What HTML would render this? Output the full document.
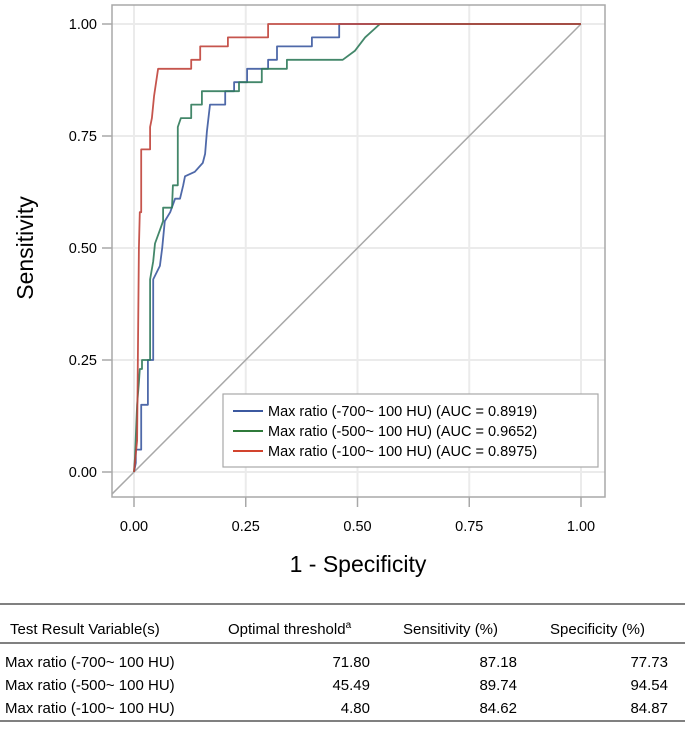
<!DOCTYPE html>
<html><head><meta charset="utf-8"><style>
body{margin:0;background:#fff;width:685px;height:733px;overflow:hidden;font-family:"Liberation Sans",sans-serif}
svg{position:absolute;left:0;top:0}
</style></head><body>
<svg width="685" height="733" font-family="Liberation Sans, sans-serif">
<g id="grid"></g>
<rect x="112" y="5" width="493" height="492" fill="none" stroke="#a8a8a8" stroke-width="1.5"/>
<g id="axes"></g>
<g id="series"></g>
<text x="33" y="248" font-size="23" text-anchor="middle" transform="rotate(-90 33 248)">Sensitivity</text>
<text x="358" y="572" font-size="23" text-anchor="middle">1 - Specificity</text>
<g>
<rect x="223" y="394" width="375" height="73" fill="#fff" stroke="#a8a8a8" stroke-width="1.2"/>
<line x1="233" y1="411" x2="263" y2="411" stroke="#3c59a0" stroke-width="2"/>
<text x="268" y="416" font-size="14.5">Max ratio (-700~ 100 HU) (AUC = 0.8919)</text>
<line x1="233" y1="431" x2="263" y2="431" stroke="#2f7a3a" stroke-width="2"/>
<text x="268" y="436" font-size="14.5">Max ratio (-500~ 100 HU) (AUC = 0.9652)</text>
<line x1="233" y1="451" x2="263" y2="451" stroke="#d2442e" stroke-width="2"/>
<text x="268" y="456" font-size="14.5">Max ratio (-100~ 100 HU) (AUC = 0.8975)</text>
</g>
<g font-size="15">
<line x1="0" y1="604" x2="685" y2="604" stroke="#000" stroke-width="1"/>
<line x1="0" y1="643" x2="685" y2="643" stroke="#000" stroke-width="1"/>
<line x1="0" y1="721" x2="685" y2="721" stroke="#000" stroke-width="1"/>
<text x="10" y="634">Test Result Variable(s)</text>
<text x="228" y="634">Optimal threshold<tspan font-size="10" dy="-6">a</tspan></text>
<text x="403" y="634">Sensitivity (%)</text>
<text x="550" y="634">Specificity (%)</text>
<g>
<text x="5" y="667">Max ratio (-700~ 100 HU)</text><text x="370" y="667" text-anchor="end">71.80</text><text x="517" y="667" text-anchor="end">87.18</text><text x="668" y="667" text-anchor="end">77.73</text></g>
<g>
<text x="5" y="690">Max ratio (-500~ 100 HU)</text><text x="370" y="690" text-anchor="end">45.49</text><text x="517" y="690" text-anchor="end">89.74</text><text x="668" y="690" text-anchor="end">94.54</text></g>
<g>
<text x="5" y="713">Max ratio (-100~ 100 HU)</text><text x="370" y="713" text-anchor="end">4.80</text><text x="517" y="713" text-anchor="end">84.62</text><text x="668" y="713" text-anchor="end">84.87</text></g>
</g>
</svg>
<script>
const ticks=[0,0.25,0.5,0.75,1];
const tickLabels=["0.00","0.25","0.50","0.75","1.00"];
const redFpr=[0,0.007,0.011,0.013,0.016,0.016,0.036,0.036,0.04,0.045,0.054,0.128,0.128,0.148,0.148,0.21,0.21,0.30,0.30,1];
const redTpr=[0,0.07,0.50,0.58,0.58,0.72,0.72,0.77,0.79,0.84,0.90,0.90,0.92,0.92,0.95,0.95,0.97,0.97,1,1];
const greenFpr=[0,0.002,0.007,0.011,0.013,0.018,0.018,0.036,0.036,0.043,0.047,0.058,0.065,0.065,0.085,0.087,0.098,0.098,0.105,0.128,0.128,0.152,0.152,0.235,0.235,0.286,0.286,0.342,0.342,0.467,0.494,0.517,0.55,1];
const greenTpr=[0,0.03,0.15,0.20,0.23,0.23,0.25,0.25,0.43,0.47,0.51,0.54,0.56,0.59,0.59,0.64,0.64,0.77,0.79,0.79,0.82,0.82,0.85,0.85,0.87,0.87,0.90,0.90,0.92,0.92,0.94,0.97,1,1];
const blueFpr=[0,0.004,0.004,0.016,0.016,0.031,0.031,0.043,0.043,0.058,0.063,0.069,0.081,0.092,0.103,0.11,0.114,0.136,0.154,0.159,0.163,0.170,0.204,0.204,0.224,0.224,0.253,0.253,0.30,0.30,0.320,0.320,0.398,0.398,0.459,0.459,1];
const blueTpr=[0,0.02,0.05,0.05,0.15,0.15,0.25,0.25,0.43,0.46,0.50,0.56,0.58,0.61,0.61,0.64,0.66,0.67,0.69,0.71,0.76,0.82,0.82,0.85,0.85,0.87,0.87,0.90,0.90,0.92,0.92,0.95,0.95,0.97,0.97,1,1];
const NS="http://www.w3.org/2000/svg";
const sx=v=>134+v*447, sy=v=>472-v*448;
function mk(tag,attrs,parent){const e=document.createElementNS(NS,tag);for(const k in attrs)e.setAttribute(k,attrs[k]);parent.appendChild(e);return e;}
const grid=document.getElementById('grid'),axes=document.getElementById('axes'),series=document.getElementById('series');
ticks.forEach((t,i)=>{
 const gx=mk('line',{x1:sx(t),x2:sx(t),y1:5,y2:497,stroke:'#ebebeb','stroke-width':2},grid);
 
 
 const gy=mk('line',{x1:112,x2:605,y1:sy(t),y2:sy(t),stroke:'#ebebeb','stroke-width':2},grid);
 
 
 mk('line',{x1:sx(t),x2:sx(t),y1:497,y2:507,stroke:'#a8a8a8','stroke-width':1.5},axes);
 mk('line',{x1:102,x2:112,y1:sy(t),y2:sy(t),stroke:'#a8a8a8','stroke-width':1.5},axes);
 const xl=mk('text',{x:sx(t),y:531,'font-size':14.5,'text-anchor':'middle'},axes);xl.textContent=tickLabels[i];
 
 
 const yl=mk('text',{x:97,y:sy(t)+5,'font-size':14.5,'text-anchor':'end'},axes);yl.textContent=tickLabels[i];
 
 
});
const diag=mk('line',{x1:112,y1:sy((112-134)/447*448/448*0)+22,x2:sx(1),y2:sy(1),stroke:'#a8a8a8','stroke-width':1.5},series);
diag.setAttribute('x1',sx(-0.049));diag.setAttribute('y1',sy(-0.049));


function line(xs,ys,color,name){
 const d=xs.map((x,i)=>(i?'L':'M')+sx(x).toFixed(1)+' '+sy(ys[i]).toFixed(1)).join('');
 const p=mk('path',{d:d,fill:'none',stroke:color,'stroke-width':1.8,'stroke-linejoin':'round','stroke-opacity':0.9},series);
 
 
}
line(blueFpr,blueTpr,'#3c59a0','roc-curve-700');
line(greenFpr,greenTpr,'#2f7a5a','roc-curve-500');
line(redFpr,redTpr,'#c0423a','roc-curve-100');
</script>
</body></html>
